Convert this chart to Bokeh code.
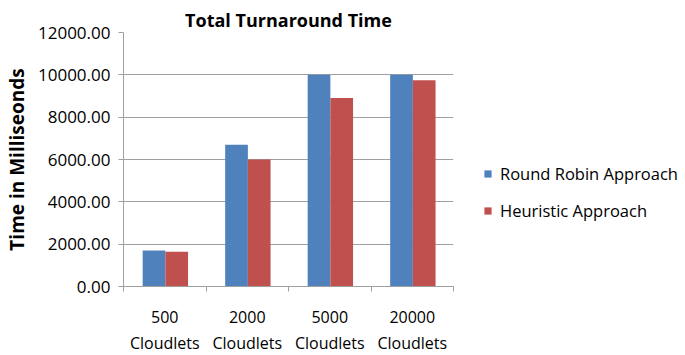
from bokeh.plotting import figure
from bokeh.models import (FixedTicker, NumeralTickFormatter, Legend, LegendItem,
                          ColumnDataSource)
from bokeh.transform import dodge
from bokeh.embed import file_html
from bokeh.resources import INLINE

categories = ["500\nCloudlets", "2000\nCloudlets", "5000\nCloudlets", "20000\nCloudlets"]
round_robin = [1700, 6700, 10000, 10000]
heuristic = [1640, 6000, 8900, 9750]
y_ticks = [0, 2000, 4000, 6000, 8000, 10000, 12000]
series_names = ["Round Robin Approach", "Heuristic Approach"]
colors = ["#4F81BD", "#C0504D"]

FONT = "Open Sans"
GRAY = "#A0A0A0"

n = len(categories)
centers = [i + 0.5 for i in range(n)]
bounds = list(range(n + 1))

source = ColumnDataSource(dict(x=centers, rr=round_robin, he=heuristic))

p = figure(frame_width=330, frame_height=254, output_backend="svg", toolbar_location=None,
           x_range=(0, n), y_range=(0, 12000),
           min_border_left=118, min_border_right=200,
           min_border_top=32, min_border_bottom=52)

r1 = p.vbar(x=dodge("x", -0.13, range=p.x_range), top="rr", width=0.275,
            source=source, fill_color=colors[0], line_color=None)
r2 = p.vbar(x=dodge("x", 0.145, range=p.x_range), top="he", width=0.275,
            source=source, fill_color=colors[1], line_color=None)

p.title.text = "Total Turnaround Time"
p.title.align = "center"
p.title.text_font = FONT
p.title.text_font_size = "18px"
p.title.text_font_style = "bold"
p.title.text_color = "black"
p.title.standoff = 2

p.outline_line_color = None
p.xgrid.grid_line_color = None
p.ygrid.grid_line_color = GRAY
p.ygrid.grid_line_width = 1

xa = p.xaxis[0]
xa.ticker = FixedTicker(ticks=centers, minor_ticks=bounds)
xa.major_label_overrides = {c: lab for c, lab in zip(centers, categories)}
xa.major_tick_line_color = None
xa.minor_tick_line_color = GRAY
xa.minor_tick_out = 5
xa.minor_tick_in = 0
xa.axis_line_color = GRAY
xa.major_label_text_font = FONT
xa.major_label_text_font_size = "16px"
xa.major_label_text_color = "black"
xa.major_label_standoff = 13

ya = p.yaxis[0]
ya.ticker = FixedTicker(ticks=y_ticks)
ya.formatter = NumeralTickFormatter(format="0.00")
ya.major_tick_line_color = GRAY
ya.major_tick_out = 5
ya.major_tick_in = 0
ya.minor_tick_line_color = None
ya.axis_line_color = GRAY
ya.major_label_text_font = FONT
ya.major_label_text_font_size = "17px"
ya.major_label_text_color = "black"
ya.major_label_standoff = 8
ya.axis_label = "Time in Milliseonds"
ya.axis_label_text_font = FONT
ya.axis_label_text_font_size = "19px"
ya.axis_label_text_font_style = "bold"
ya.axis_label_text_color = "black"
ya.axis_label_standoff = 5

legend = Legend(items=[LegendItem(label=series_names[0], renderers=[r1]),
                       LegendItem(label=series_names[1], renderers=[r2])],
                location=(30, 64), border_line_color=None, background_fill_alpha=0,
                glyph_width=9, glyph_height=9, label_standoff=8, spacing=14,
                padding=0, margin=0,
                label_text_font=FONT, label_text_font_size="16.5px",
                label_text_color="black")
p.add_layout(legend, "right")

open("out.html", "w").write(file_html(p, INLINE))
